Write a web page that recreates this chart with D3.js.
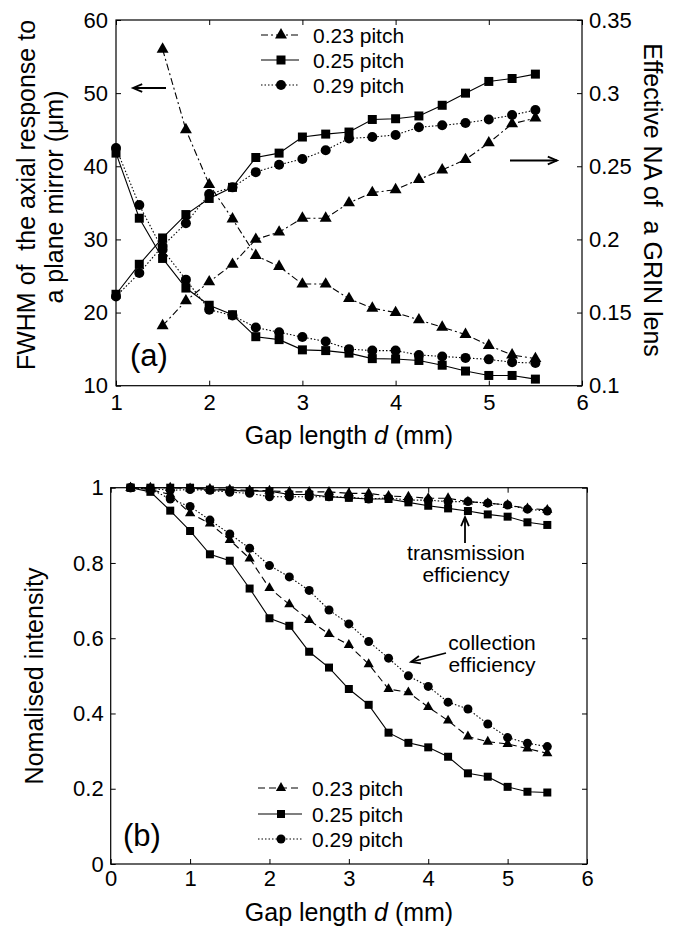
<!DOCTYPE html>
<html>
<head>
<meta charset="utf-8">
<script src="https://cdn.jsdelivr.net/npm/d3@7"></script>
<style>
  body { margin: 0; background: #fff; }
  svg { display: block; font-family: "Liberation Sans", Arial, sans-serif; }
  text { white-space: pre; fill: #000; }
</style>
</head>
<body>
<script>
// ---------------- DATA ----------------
// Panel (a)
const xA = [1, 1.25, 1.5, 1.75, 2, 2.25, 2.5, 2.75, 3, 3.25, 3.5, 3.75, 4, 4.25, 4.5, 4.75, 5, 5.25, 5.5];
const xA023 = [1.5, 1.75, 2, 2.25, 2.5, 2.75, 3, 3.25, 3.5, 3.75, 4, 4.25, 4.5, 4.75, 5, 5.25, 5.5];
const fwhm023 = [56.0, 45.0, 37.5, 32.8, 27.8, 26.3, 23.9, 23.9, 21.9, 20.6, 20.0, 19.0, 18.0, 17.0, 15.5, 14.2, 13.7];
const fwhm025 = [41.8, 32.9, 27.4, 23.35, 21.0, 19.7, 16.7, 16.3, 14.9, 14.8, 14.45, 13.7, 13.65, 13.45, 12.8, 12.0, 11.4, 11.4, 10.9];
const fwhm029 = [42.5, 34.7, 28.6, 24.5, 20.4, 19.6, 17.96, 17.3, 16.65, 16.05, 15.0, 14.8, 14.8, 14.2, 14.0, 13.8, 13.6, 13.2, 13.1];
const na023 = [0.141, 0.158, 0.171, 0.183, 0.200, 0.205, 0.2145, 0.2145, 0.225, 0.232, 0.234, 0.241, 0.2475, 0.2546, 0.266, 0.279, 0.283];
const na025 = [0.1625, 0.183, 0.201, 0.217, 0.228, 0.2356, 0.256, 0.259, 0.270, 0.272, 0.2734, 0.282, 0.2825, 0.2844, 0.2917, 0.300, 0.308, 0.310, 0.313];
const na029 = [0.161, 0.177, 0.1955, 0.211, 0.231, 0.2356, 0.246, 0.251, 0.255, 0.261, 0.269, 0.270, 0.2714, 0.2767, 0.278, 0.2796, 0.282, 0.285, 0.2885];
const xTicksA = [1, 2, 3, 4, 5, 6];
const yTicksA = [10, 20, 30, 40, 50, 60];
const yTicksA_R = [0.1, 0.15, 0.2, 0.25, 0.3, 0.35];

// Panel (b)
const xB = [0.25, 0.5, 0.75, 1, 1.25, 1.5, 1.75, 2, 2.25, 2.5, 2.75, 3, 3.25, 3.5, 3.75, 4, 4.25, 4.5, 4.75, 5, 5.25, 5.5];
const trans023 = [1.0, 1.0, 1.0, 0.998, 0.997, 0.995, 0.993, 0.992, 0.989, 0.989, 0.989, 0.985, 0.985, 0.978, 0.976, 0.972, 0.972, 0.963, 0.959, 0.954, 0.945, 0.941];
const trans025 = [1.0, 1.0, 1.0, 1.0, 0.995, 0.993, 0.991, 0.991, 0.982, 0.982, 0.976, 0.973, 0.970, 0.970, 0.961, 0.952, 0.945, 0.938, 0.929, 0.923, 0.908, 0.901];
const trans029 = [1.0, 0.998, 0.993, 0.995, 0.993, 0.988, 0.985, 0.976, 0.976, 0.976, 0.976, 0.975, 0.970, 0.973, 0.967, 0.967, 0.963, 0.963, 0.959, 0.954, 0.943, 0.938];
const coll023 = [1.0, 0.995, 0.982, 0.932, 0.905, 0.861, 0.812, 0.733, 0.690, 0.648, 0.611, 0.582, 0.531, 0.465, 0.456, 0.417, 0.381, 0.339, 0.325, 0.319, 0.307, 0.294];
const coll025 = [1.0, 0.989, 0.939, 0.885, 0.823, 0.806, 0.732, 0.653, 0.633, 0.564, 0.522, 0.465, 0.423, 0.349, 0.322, 0.310, 0.285, 0.241, 0.232, 0.205, 0.192, 0.190];
const coll029 = [1.0, 0.997, 0.970, 0.950, 0.914, 0.877, 0.839, 0.793, 0.763, 0.727, 0.675, 0.638, 0.591, 0.547, 0.500, 0.472, 0.430, 0.412, 0.372, 0.336, 0.321, 0.312];
const xTicksB = [0, 1, 2, 3, 4, 5, 6];
const yTicksB = [0, 0.2, 0.4, 0.6, 0.8, 1];

const legendLabels = ["0.23 pitch", "0.25 pitch", "0.29 pitch"];

// ---------------- DRAWING ----------------
const FONT = '"Liberation Sans", Arial, sans-serif';
const svg = d3.select("body").append("svg").attr("width", 674).attr("height", 930);

const zip = (xs, ys) => xs.map((x, i) => [x, ys[i]]);

const styleA = [
  { dash: "7,3,2,3", sym: d3.symbolTriangle, size: 62, r: 0 },
  { dash: null, sym: d3.symbolSquare, size: 81, r: 0 },
  { dash: "1.5,2", sym: d3.symbolCircle, size: 0, r: 5 }
];
const styleB = [
  { dash: "7,4", sym: d3.symbolTriangle, size: 45, r: 0 },
  { dash: null, sym: d3.symbolSquare, size: 64, r: 0 },
  { dash: "1.5,2", sym: d3.symbolCircle, size: 0, r: 4.5 }
];

function drawSeries(g, data, xs, ys, st) {
  const line = d3.line().x(d => xs(d[0])).y(d => ys(d[1]));
  g.append("path").datum(data)
    .attr("d", line).attr("fill", "none").attr("stroke", "#000")
    .attr("stroke-width", 1.1)
    .attr("stroke-dasharray", st.dash);
  drawMarkers(g, data, xs, ys, st);
}
function drawMarkers(g, data, xs, ys, st) {
  if (st.r) {
    g.selectAll(null).data(data).enter().append("circle")
      .attr("cx", d => xs(d[0])).attr("cy", d => ys(d[1])).attr("r", st.r).attr("fill", "#000");
  } else {
    const sym = d3.symbol().type(st.sym).size(st.size);
    g.selectAll(null).data(data).enter().append("path")
      .attr("d", sym)
      .attr("transform", d => `translate(${xs(d[0])},${ys(d[1])})`)
      .attr("fill", "#000");
  }
}
function styleAxis(g, fs) {
  g.selectAll("path.domain").remove();
  g.selectAll("line").attr("stroke", "#000").attr("stroke-width", 1);
  g.selectAll("text").attr("font-size", fs).attr("font-family", FONT).attr("fill", "#000");
}
function arrow(g, x1, y1, x2, y2) {
  g.append("line").attr("x1", x1).attr("y1", y1).attr("x2", x2).attr("y2", y2)
    .attr("stroke", "#000").attr("stroke-width", 1.8);
  const ang = Math.atan2(y2 - y1, x2 - x1);
  const L = 10, a = 0.4;
  const p = [
    [x2 - L * Math.cos(ang - a), y2 - L * Math.sin(ang - a)],
    [x2, y2],
    [x2 - L * Math.cos(ang + a), y2 - L * Math.sin(ang + a)]
  ];
  g.append("path").attr("d", d3.line()(p)).attr("fill", "none").attr("stroke", "#000").attr("stroke-width", 1.8);
}
function legend(g, x0, x1, xm, xt, ys, styles, fs) {
  styles.forEach((st, i) => {
    const y = ys[i];
    g.append("line").attr("x1", x0).attr("x2", x1).attr("y1", y).attr("y2", y)
      .attr("stroke", "#000").attr("stroke-width", 1.1).attr("stroke-dasharray", st.dash);
    if (st.r) {
      g.append("circle").attr("cx", xm).attr("cy", y).attr("r", st.r).attr("fill", "#000");
    } else {
      g.append("path").attr("d", d3.symbol().type(st.sym).size(st.size)())
        .attr("transform", `translate(${xm},${y})`).attr("fill", "#000");
    }
    g.append("text").attr("x", xt).attr("y", y).attr("dy", "0.36em")
      .attr("font-size", fs).text(legendLabels[i]);
  });
}

// ===== Panel (a) =====
{
  const L = 116, R = 582, T = 20, B = 385.7;
  const x = d3.scaleLinear().domain([1, 6]).range([L, R]);
  const yL = d3.scaleLinear().domain([10, 60]).range([B, T]);
  const yR = d3.scaleLinear().domain([0.1, 0.35]).range([B, T]);
  const g = svg.append("g");

  g.append("rect").attr("x", L).attr("y", T).attr("width", R - L).attr("height", B - T)
    .attr("fill", "none").attr("stroke", "#000").attr("stroke-width", 1.2);

  const ax = g.append("g").attr("transform", `translate(0,${B})`)
    .call(d3.axisBottom(x).tickValues(xTicksA).tickSize(-5).tickPadding(9).tickFormat(d3.format("d")));
  styleAxis(ax, 22);
  const axT = g.append("g").attr("transform", `translate(0,${T})`)
    .call(d3.axisTop(x).tickValues(xTicksA).tickSize(-5).tickFormat(""));
  styleAxis(axT, 22);
  const ayl = g.append("g").attr("transform", `translate(${L},0)`)
    .call(d3.axisLeft(yL).tickValues(yTicksA).tickSize(-5).tickPadding(8).tickFormat(d3.format("d")));
  styleAxis(ayl, 22);
  const ayr = g.append("g").attr("transform", `translate(${R},0)`)
    .call(d3.axisRight(yR).tickValues(yTicksA_R).tickSize(-5).tickPadding(7).tickFormat(d => String(+d.toFixed(2))));
  styleAxis(ayr, 22);

  // FWHM (left axis)
  drawSeries(g, zip(xA023, fwhm023), x, yL, styleA[0]);
  drawSeries(g, zip(xA, fwhm025), x, yL, styleA[1]);
  drawSeries(g, zip(xA, fwhm029), x, yL, styleA[2]);
  // NA (right axis)
  drawSeries(g, zip(xA023, na023), x, yR, styleA[0]);
  drawSeries(g, zip(xA, na025), x, yR, styleA[1]);
  drawSeries(g, zip(xA, na029), x, yR, styleA[2]);

  legend(g, 261, 299, 281, 313, [35, 60, 85], styleA, 21);

  arrow(g, 166, 88, 133, 88);
  arrow(g, 510, 160.5, 557, 160.5);

  g.append("text").attr("x", 130).attr("y", 366).attr("font-size", 31).text("(a)");

  const tx = g.append("text").attr("x", 349).attr("y", 444).attr("text-anchor", "middle").attr("font-size", 25);
  tx.append("tspan").text("Gap length ");
  tx.append("tspan").attr("font-style", "italic").text("d");
  tx.append("tspan").text(" (mm)");

  g.append("text").attr("transform", "translate(35,195) rotate(-90)").attr("text-anchor", "middle")
    .attr("font-size", 25).text("FWHM of  the axial response to");
  g.append("text").attr("transform", "translate(63,197) rotate(-90)").attr("text-anchor", "middle")
    .attr("font-size", 25).text("a plane mirror (\u03bcm)");
  g.append("text").attr("transform", "translate(644,200) rotate(90)").attr("text-anchor", "middle")
    .attr("font-size", 25).text("Effective NA of  a GRIN lens");
}

// ===== Panel (b) =====
{
  const L = 110.7, R = 587, T = 487.7, B = 864;
  const x = d3.scaleLinear().domain([0, 6]).range([L, R]);
  const y = d3.scaleLinear().domain([0, 1]).range([B, T]);
  const g = svg.append("g");

  g.append("rect").attr("x", L).attr("y", T).attr("width", R - L).attr("height", B - T)
    .attr("fill", "none").attr("stroke", "#000").attr("stroke-width", 1.2);

  const ax = g.append("g").attr("transform", `translate(0,${B})`)
    .call(d3.axisBottom(x).tickValues(xTicksB).tickSize(-5).tickPadding(6).tickFormat(d3.format("d")));
  styleAxis(ax, 22);
  const axT = g.append("g").attr("transform", `translate(0,${T})`)
    .call(d3.axisTop(x).tickValues(xTicksB).tickSize(-5).tickFormat(""));
  styleAxis(axT, 22);
  const ay = g.append("g").attr("transform", `translate(${L},0)`)
    .call(d3.axisLeft(y).tickValues(yTicksB).tickSize(-5).tickPadding(7).tickFormat(d => String(+d.toFixed(1))));
  styleAxis(ay, 22);
  const ayR = g.append("g").attr("transform", `translate(${R},0)`)
    .call(d3.axisRight(y).tickValues(yTicksB).tickSize(-5).tickFormat(""));
  styleAxis(ayR, 22);

  drawSeries(g, zip(xB, trans023), x, y, styleB[0]);
  drawSeries(g, zip(xB, trans025), x, y, styleB[1]);
  drawSeries(g, zip(xB, trans029), x, y, styleB[2]);
  drawSeries(g, zip(xB, coll023), x, y, styleB[0]);
  drawSeries(g, zip(xB, coll025), x, y, styleB[1]);
  drawSeries(g, zip(xB, coll029), x, y, styleB[2]);

  legend(g, 258, 302, 281, 312, [788, 814, 839], styleB, 21);

  g.append("text").attr("x", 466).attr("y", 560).attr("text-anchor", "middle").attr("font-size", 21).text("transmission");
  g.append("text").attr("x", 466).attr("y", 582).attr("text-anchor", "middle").attr("font-size", 21).text("efficiency");
  arrow(g, 465, 543, 465, 517);

  g.append("text").attr("x", 492).attr("y", 650).attr("text-anchor", "middle").attr("font-size", 21).text("collection");
  g.append("text").attr("x", 492).attr("y", 672).attr("text-anchor", "middle").attr("font-size", 21).text("efficiency");
  arrow(g, 446, 653, 411, 662);

  g.append("text").attr("x", 123).attr("y", 846).attr("font-size", 31).text("(b)");

  const tx = g.append("text").attr("x", 349).attr("y", 921).attr("text-anchor", "middle").attr("font-size", 25);
  tx.append("tspan").text("Gap length ");
  tx.append("tspan").attr("font-style", "italic").text("d");
  tx.append("tspan").text(" (mm)");

  g.append("text").attr("transform", "translate(43,676) rotate(-90)").attr("text-anchor", "middle")
    .attr("font-size", 25).text("Nomalised intensity");
}
</script>
</body>
</html>
